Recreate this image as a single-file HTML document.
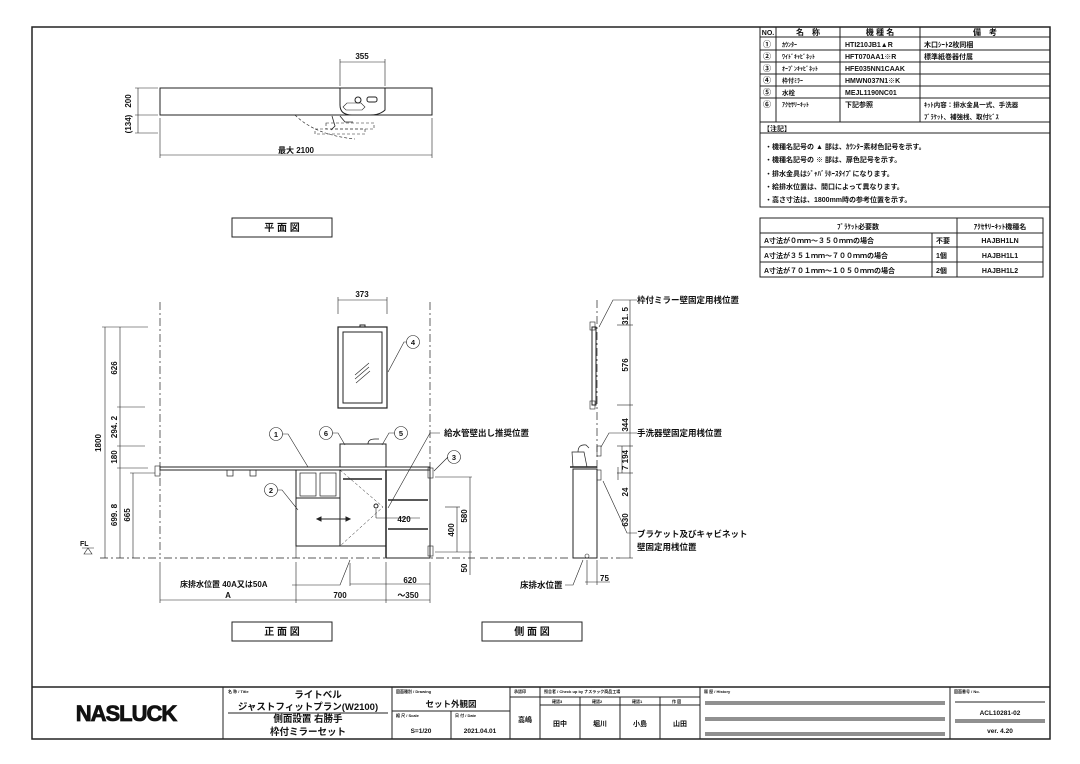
<!DOCTYPE html>
<html><head><meta charset="utf-8"><style>
html,body{margin:0;padding:0;background:#fff;}
svg{display:block;}
text{font-family:"Liberation Sans","Noto Sans CJK JP",sans-serif;fill:#111;}
.j{font-weight:bold;}
</style></head><body>
<svg width="1080" height="764" viewBox="0 0 1080 764" xmlns="http://www.w3.org/2000/svg">
<g stroke="#222" fill="none" stroke-width="1">
<rect x="32" y="27" width="1018" height="712" stroke-width="1.5"/>
<line x1="32" y1="687" x2="1050" y2="687" stroke-width="1.5"/>
<line x1="223" y1="687" x2="223" y2="739"/>
<line x1="392" y1="687" x2="392" y2="739"/>
<line x1="510" y1="687" x2="510" y2="739"/>
<line x1="540" y1="687" x2="540" y2="739"/>
<line x1="700" y1="687" x2="700" y2="739"/>
<line x1="950" y1="687" x2="950" y2="739"/>
<line x1="392" y1="711" x2="510" y2="711"/>
<line x1="451" y1="711" x2="451" y2="739"/>
<line x1="540" y1="697" x2="700" y2="697"/>
<line x1="540" y1="705" x2="700" y2="705"/>
<line x1="580" y1="697" x2="580" y2="739"/>
<line x1="620" y1="697" x2="620" y2="739"/>
<line x1="660" y1="697" x2="660" y2="739"/>
<line x1="510" y1="697" x2="540" y2="697"/>
<line x1="228" y1="713" x2="388" y2="713"/>
<line x1="705" y1="702" x2="945" y2="702"/><line x1="705" y1="704" x2="945" y2="704"/>
<line x1="705" y1="718" x2="945" y2="718"/><line x1="705" y1="720" x2="945" y2="720"/>
<line x1="705" y1="733" x2="945" y2="733"/><line x1="705" y1="735" x2="945" y2="735"/>
<line x1="955" y1="702" x2="1045" y2="702"/>
<line x1="955" y1="720" x2="1045" y2="720"/><line x1="955" y1="722" x2="1045" y2="722"/>

<rect x="760" y="27" width="290" height="180"/>
<line x1="760" y1="37" x2="1050" y2="37"/>
<line x1="760" y1="50" x2="1050" y2="50"/>
<line x1="760" y1="62" x2="1050" y2="62"/>
<line x1="760" y1="74" x2="1050" y2="74"/>
<line x1="760" y1="86" x2="1050" y2="86"/>
<line x1="760" y1="98" x2="1050" y2="98"/>
<line x1="760" y1="122" x2="1050" y2="122"/>
<line x1="760" y1="133" x2="1050" y2="133"/>
<line x1="776" y1="27" x2="776" y2="122"/>
<line x1="840" y1="27" x2="840" y2="122"/>
<line x1="920" y1="27" x2="920" y2="122"/>
<rect x="760" y="218" width="283" height="59"/>
<line x1="760" y1="233" x2="1043" y2="233"/>
<line x1="760" y1="247" x2="1043" y2="247"/>
<line x1="760" y1="262" x2="1043" y2="262"/>
<line x1="932" y1="233" x2="932" y2="277"/>
<line x1="957" y1="218" x2="957" y2="277"/>

<rect x="232" y="218" width="100" height="19"/>
<rect x="232" y="622" width="100" height="19"/>
<rect x="482" y="622" width="100" height="19"/>

<rect x="160" y="88" width="272" height="27"/>
<path d="M340 88 h45 v22 q-5 5 -15 5 h-18 q-12 0 -12 -10 z"/>
<circle cx="358" cy="100" r="3"/>
<rect x="367" y="97" width="10" height="5" rx="2"/>
<path d="M343 107 l4 -4 h14 l4 4 l-3 3 h-16 z" stroke-width=".6"/>
<path d="M295 115 q20 20 60 24" stroke-dasharray="3 2" stroke-width=".6"/>
<rect x="326" y="123" width="48" height="6" stroke-dasharray="3 2" stroke-width=".6"/>
<rect x="315" y="129" width="50" height="5" stroke-dasharray="3 2" stroke-width=".6"/>
<path d="M332 116 l3 10 l-4 4 M340 116 l5 6 h8" stroke-width=".8"/>
<line x1="340" y1="59" x2="340" y2="86" stroke-width=".6"/><line x1="385" y1="59" x2="385" y2="86" stroke-width=".6"/>
<line x1="340" y1="62" x2="385" y2="62" stroke-width=".6"/>
<line x1="135" y1="88" x2="158" y2="88" stroke-width=".6"/><line x1="135" y1="115" x2="158" y2="115" stroke-width=".6"/><line x1="135" y1="133" x2="158" y2="133" stroke-width=".6"/>
<line x1="138" y1="88" x2="138" y2="133" stroke-width=".6"/>
<line x1="160" y1="118" x2="160" y2="158" stroke-width=".6"/><line x1="432" y1="118" x2="432" y2="158" stroke-width=".6"/>
<line x1="160" y1="155" x2="432" y2="155" stroke-width=".6"/>

<g stroke-dasharray="8 3 2 3" stroke-width=".7">
<line x1="160" y1="302" x2="160" y2="558"/>
<line x1="430" y1="302" x2="430" y2="558"/>
<line x1="100" y1="558" x2="475" y2="558"/>
<line x1="480" y1="558" x2="570" y2="558"/>
<line x1="600" y1="558" x2="620" y2="558"/>
<line x1="597" y1="300" x2="597" y2="558"/>
</g>
<line x1="338" y1="300" x2="387" y2="300" stroke-width=".6"/>
<line x1="338" y1="297" x2="338" y2="314" stroke-width=".6"/><line x1="387" y1="297" x2="387" y2="314" stroke-width=".6"/>
<rect x="338" y="327" width="49" height="81" stroke-width="1.2"/>
<rect x="343" y="332" width="39" height="71"/>
<rect x="360" y="325" width="5" height="2"/>
<path d="M355 375 l14 -12 M355 379 l14 -12 M356 383 l14 -12" stroke-width=".6"/>
<rect x="160" y="467" width="270" height="3" stroke-width="1"/>
<rect x="227" y="470" width="6" height="6" stroke-width=".7"/><rect x="250" y="470" width="6" height="6" stroke-width=".7"/>
<rect x="155" y="466" width="5" height="10" stroke-width=".6"/>
<rect x="340" y="444" width="46" height="23"/>
<path d="M368 444 q0 -5 7 -5 h4" stroke-width=".8"/>
<rect x="296" y="470" width="90" height="76"/>
<line x1="340" y1="470" x2="340" y2="546"/>
<line x1="296" y1="498" x2="340" y2="498"/>
<rect x="300" y="473" width="16" height="23" stroke-width=".7"/><rect x="320" y="473" width="16" height="23" stroke-width=".7"/>
<line x1="296" y1="546" x2="296" y2="558" stroke-width=".6"/><line x1="386" y1="470" x2="386" y2="558" stroke-width="1.5"/>
<line x1="343" y1="479" x2="382" y2="479" stroke-width="1.5"/>
<path d="M340 470 L383 507 L340 546" stroke-width=".5" stroke-dasharray="3 2"/>
<line x1="317" y1="519" x2="350" y2="519"/>
<path d="M317 519 l4 -2 v4 z M350 519 l-4 -2 v4 z" fill="#222"/>
<rect x="386" y="470" width="44" height="88" stroke-width="1"/>
<line x1="388" y1="500" x2="428" y2="500" stroke-width="1.5"/>
<line x1="388" y1="529" x2="428" y2="529" stroke-width="1.5"/>
<rect x="428" y="468" width="5" height="10" stroke-width=".6"/><rect x="428" y="546" width="5" height="10" stroke-width=".6"/>
<circle cx="376" cy="506" r="2"/>
<line x1="376" y1="509" x2="376" y2="518" stroke-width=".6"/>
<line x1="376" y1="518" x2="420" y2="518" stroke-width=".6"/>
<g stroke-width=".6">
<line x1="105" y1="327" x2="105" y2="558"/><line x1="120" y1="327" x2="120" y2="558"/><line x1="133" y1="473" x2="133" y2="558"/>
<line x1="102" y1="327" x2="148" y2="327"/><line x1="117" y1="407" x2="145" y2="407"/><line x1="117" y1="446" x2="145" y2="446"/><line x1="117" y1="468" x2="148" y2="468"/><line x1="130" y1="473" x2="155" y2="473"/>
<line x1="435" y1="477" x2="472" y2="477"/><line x1="435" y1="552" x2="472" y2="552"/><line x1="445" y1="507" x2="460" y2="507"/>
<line x1="470" y1="477" x2="470" y2="575"/><line x1="457" y1="507" x2="457" y2="552"/>
<line x1="160" y1="562" x2="160" y2="603"/><line x1="296" y1="562" x2="296" y2="603"/><line x1="386" y1="562" x2="386" y2="603"/><line x1="430" y1="562" x2="430" y2="603"/>
<line x1="160" y1="600" x2="430" y2="600"/>
<line x1="350" y1="584" x2="430" y2="584"/><line x1="350" y1="563" x2="350" y2="586"/>
<path d="M350 560 l-10 25 H292"/>
<circle cx="276" cy="434" r="6.5"/><path d="M282 434 h6 l20 33"/>
<circle cx="326" cy="433" r="6.5"/><path d="M332 433 h6 l7 12"/>
<circle cx="401" cy="433" r="6.5"/><path d="M395 433 h-6 l-7 12"/>
<circle cx="413" cy="342" r="6.5"/><path d="M407 342 h-3 l-16 30"/>
<circle cx="454" cy="457" r="6.5"/><path d="M448 457 l-14 14"/>
<circle cx="271" cy="490" r="6.5"/><path d="M277 490 h5 l16 20"/>
<path d="M440 433 h-10 l-42 75"/>
<path d="M82 548 h12 M88 548 l-4 6 h8 z"/>
</g>

<rect x="592" y="327" width="4" height="78" stroke-width="1"/>
<rect x="590" y="322" width="5" height="8" stroke-width=".6"/><rect x="590" y="401" width="5" height="8" stroke-width=".6"/>
<rect x="573" y="469" width="24" height="89" stroke-width="1"/>
<line x1="570" y1="467" x2="597" y2="467" stroke-width="1.5"/>
<path d="M572 452 h12 l3 15 h-14 z M578 452 q0 -8 8 -7 l3 3" stroke-width=".7"/>
<rect x="597" y="446" width="4" height="10" stroke-width=".6"/><rect x="597" y="470" width="4" height="10" stroke-width=".6"/>
<circle cx="587" cy="556" r="2" stroke-width=".6"/>
<g stroke-width=".6">
<line x1="630" y1="300" x2="630" y2="558"/>
<line x1="617" y1="325" x2="633" y2="325"/><line x1="617" y1="405" x2="633" y2="405"/><line x1="617" y1="446" x2="633" y2="446"/><line x1="617" y1="473" x2="633" y2="473"/><line x1="620" y1="558" x2="633" y2="558"/>
<line x1="622" y1="446" x2="622" y2="473"/><line x1="618" y1="467" x2="618" y2="480"/>
<path d="M637 300 h-24 l-14 27"/>
<path d="M637 433 h-28 l-8 14"/>
<path d="M637 533 h-10 l-24 -52"/>
<path d="M565 585 h8 l10 -25"/>
<line x1="587" y1="560" x2="587" y2="585"/><line x1="597" y1="560" x2="597" y2="585"/>
<line x1="585" y1="582" x2="610" y2="582"/>
</g>
</g>

<g class="j" font-size="7">
<text x="768" y="35" text-anchor="middle">NO.</text>
<text x="808" y="35" text-anchor="middle" font-size="8">名　称</text>
<text x="880" y="35" text-anchor="middle" font-size="8">機 種 名</text>
<text x="985" y="35" text-anchor="middle" font-size="8">備　考</text>
<text x="763" y="47" font-size="8">①</text><text x="782" y="47" font-size="6">ｶｳﾝﾀｰ</text><text x="845" y="47">HTI210JB1▲R</text><text x="924" y="47">木口ｼｰﾄ2枚同梱</text>
<text x="763" y="59" font-size="8">②</text><text x="782" y="59" font-size="6">ﾜｲﾄﾞｷｬﾋﾞﾈｯﾄ</text><text x="845" y="59">HFT070AA1※R</text><text x="924" y="59">標準紙巻器付属</text>
<text x="763" y="71" font-size="8">③</text><text x="782" y="71" font-size="6">ｵｰﾌﾟﾝｷｬﾋﾞﾈｯﾄ</text><text x="845" y="71">HFE035NN1CAAK</text>
<text x="763" y="83" font-size="8">④</text><text x="782" y="83" font-size="6">枠付ﾐﾗｰ</text><text x="845" y="83">HMWN037N1※K</text>
<text x="763" y="95" font-size="8">⑤</text><text x="782" y="95" font-size="6.5">水栓</text><text x="845" y="95">MEJL1190NC01</text>
<text x="763" y="107" font-size="8">⑥</text><text x="782" y="107" font-size="6">ｱｸｾｻﾘｰｷｯﾄ</text><text x="845" y="107">下記参照</text>
<text x="924" y="107" font-size="6.5">ｷｯﾄ内容：排水金具一式、手洗器</text>
<text x="924" y="119" font-size="6.5">ﾌﾞﾗｹｯﾄ、補強桟、取付ﾋﾞｽ</text>
<text x="763" y="131">【注記】</text>
<text x="765" y="149">・機種名記号の ▲ 部は、ｶｳﾝﾀｰ素材色記号を示す。</text>
<text x="765" y="162">・機種名記号の ※ 部は、扉色記号を示す。</text>
<text x="765" y="176">・排水金具はｼﾞｬﾊﾞﾗﾎｰｽﾀｲﾌﾟになります。</text>
<text x="765" y="189">・給排水位置は、間口によって異なります。</text>
<text x="765" y="202">・高さ寸法は、1800mm時の参考位置を示す。</text>
<text x="858" y="229" text-anchor="middle">ﾌﾞﾗｹｯﾄ必要数</text>
<text x="1000" y="229" text-anchor="middle">ｱｸｾｻﾘｰｷｯﾄ機種名</text>
<text x="764" y="243">A寸法が０ｍｍ～３５０ｍｍの場合</text><text x="936" y="243">不要</text><text x="1000" y="243" text-anchor="middle">HAJBH1LN</text>
<text x="764" y="258">A寸法が３５１ｍｍ～７００ｍｍの場合</text><text x="936" y="258">1個</text><text x="1000" y="258" text-anchor="middle">HAJBH1L1</text>
<text x="764" y="273">A寸法が７０１ｍｍ～１０５０ｍｍの場合</text><text x="936" y="273">2個</text><text x="1000" y="273" text-anchor="middle">HAJBH1L2</text>
</g>

<g class="j" font-size="8.5">
<text x="282" y="231" text-anchor="middle" font-size="10">平 面 図</text>
<text x="282" y="635" text-anchor="middle" font-size="10">正 面 図</text>
<text x="532" y="635" text-anchor="middle" font-size="10">側 面 図</text>
<text x="362" y="59" text-anchor="middle" font-size="8">355</text>
<text x="296" y="153" text-anchor="middle" font-size="8">最大 2100</text>
<text transform="translate(131 101) rotate(-90)" text-anchor="middle" font-size="8">200</text>
<text transform="translate(131 124) rotate(-90)" text-anchor="middle" font-size="8">(134)</text>
<text x="362" y="297" text-anchor="middle" font-size="8">373</text>
<text x="444" y="436">給水管壁出し推奨位置</text>
<text x="276" y="437" text-anchor="middle" font-size="7.5">1</text>
<text x="326" y="436" text-anchor="middle" font-size="7.5">6</text>
<text x="401" y="436" text-anchor="middle" font-size="7.5">5</text>
<text x="413" y="345" text-anchor="middle" font-size="7.5">4</text>
<text x="454" y="460" text-anchor="middle" font-size="7.5">3</text>
<text x="271" y="493" text-anchor="middle" font-size="7.5">2</text>
<text x="404" y="522" text-anchor="middle" font-size="8">420</text>
<text x="410" y="583" text-anchor="middle" font-size="8">620</text>
<text x="340" y="598" text-anchor="middle" font-size="8">700</text>
<text x="408" y="598" text-anchor="middle" font-size="8">～350</text>
<text x="228" y="598" text-anchor="middle" font-size="8">A</text>
<text x="180" y="587" font-size="8">床排水位置 40A又は50A</text>
<text x="80" y="546" font-size="7">FL</text>
<g font-size="8">
<text transform="translate(101 443) rotate(-90)" text-anchor="middle">1800</text>
<text transform="translate(117 368) rotate(-90)" text-anchor="middle">626</text>
<text transform="translate(117 427) rotate(-90)" text-anchor="middle">294. 2</text>
<text transform="translate(117 457) rotate(-90)" text-anchor="middle">180</text>
<text transform="translate(117 515) rotate(-90)" text-anchor="middle">699. 8</text>
<text transform="translate(130 515) rotate(-90)" text-anchor="middle">665</text>
<text transform="translate(467 516) rotate(-90)" text-anchor="middle">580</text>
<text transform="translate(454 530) rotate(-90)" text-anchor="middle">400</text>
<text transform="translate(467 568) rotate(-90)" text-anchor="middle">50</text>
<text transform="translate(628 316) rotate(-90)" text-anchor="middle">31. 5</text>
<text transform="translate(628 365) rotate(-90)" text-anchor="middle">576</text>
<text transform="translate(628 425) rotate(-90)" text-anchor="middle">344</text>
<text transform="translate(628 460) rotate(-90)" text-anchor="middle">7 194</text>
<text transform="translate(628 492) rotate(-90)" text-anchor="middle">24</text>
<text transform="translate(628 520) rotate(-90)" text-anchor="middle">630</text>
<text x="600" y="581">75</text>
</g>
<text x="637" y="303">枠付ミラー壁固定用桟位置</text>
<text x="637" y="436">手洗器壁固定用桟位置</text>
<text x="637" y="537">ブラケット及びキャビネット</text>
<text x="637" y="550">壁固定用桟位置</text>
<text x="520" y="588">床排水位置</text>
</g>

<text x="126" y="721" text-anchor="middle" font-size="22" font-weight="bold" style="stroke:#111;stroke-width:.8;fill:#111" letter-spacing="-1">NASLUCK</text>
<g font-size="4" class="j">
<text x="228" y="693">名 称 / Title</text>
<text x="396" y="693">図面種別 / Drawing</text>
<text x="396" y="717">縮 尺 / Scale</text>
<text x="455" y="717">日 付 / Date</text>
<text x="514" y="693">承認印</text>
<text x="544" y="693">照合者 / Check up by ナスラック商品工場</text>
<text x="704" y="693">履 歴 / History</text>
<text x="954" y="693">図面番号 / No.</text>
<text x="552" y="703">確認3</text><text x="592" y="703">確認2</text><text x="632" y="703">確認1</text><text x="672" y="703">作 図</text>
</g>
<g class="j" font-size="9.5">
<text x="318" y="698" text-anchor="middle">ライトベル</text>
<text x="308" y="710" text-anchor="middle">ジャストフィットプラン(W2100)</text>
<text x="308" y="722" text-anchor="middle">側面設置 右勝手</text>
<text x="308" y="735" text-anchor="middle">枠付ミラーセット</text>
<text x="451" y="707" text-anchor="middle" font-size="8.5">セット外観図</text>
<text x="421" y="733" text-anchor="middle" font-size="6.5">S=1/20</text>
<text x="480" y="733" text-anchor="middle" font-size="6.5">2021.04.01</text>
<text x="525" y="722" text-anchor="middle" font-size="7">高嶋</text>
<text x="560" y="726" text-anchor="middle" font-size="7">田中</text>
<text x="600" y="726" text-anchor="middle" font-size="7">堀川</text>
<text x="640" y="726" text-anchor="middle" font-size="7">小島</text>
<text x="680" y="726" text-anchor="middle" font-size="7">山田</text>
<text x="1000" y="715" text-anchor="middle" font-size="6.5">ACL10281-02</text>
<text x="1000" y="733" text-anchor="middle" font-size="6.5">ver. 4.20</text>
</g>
</svg>
</body></html>
